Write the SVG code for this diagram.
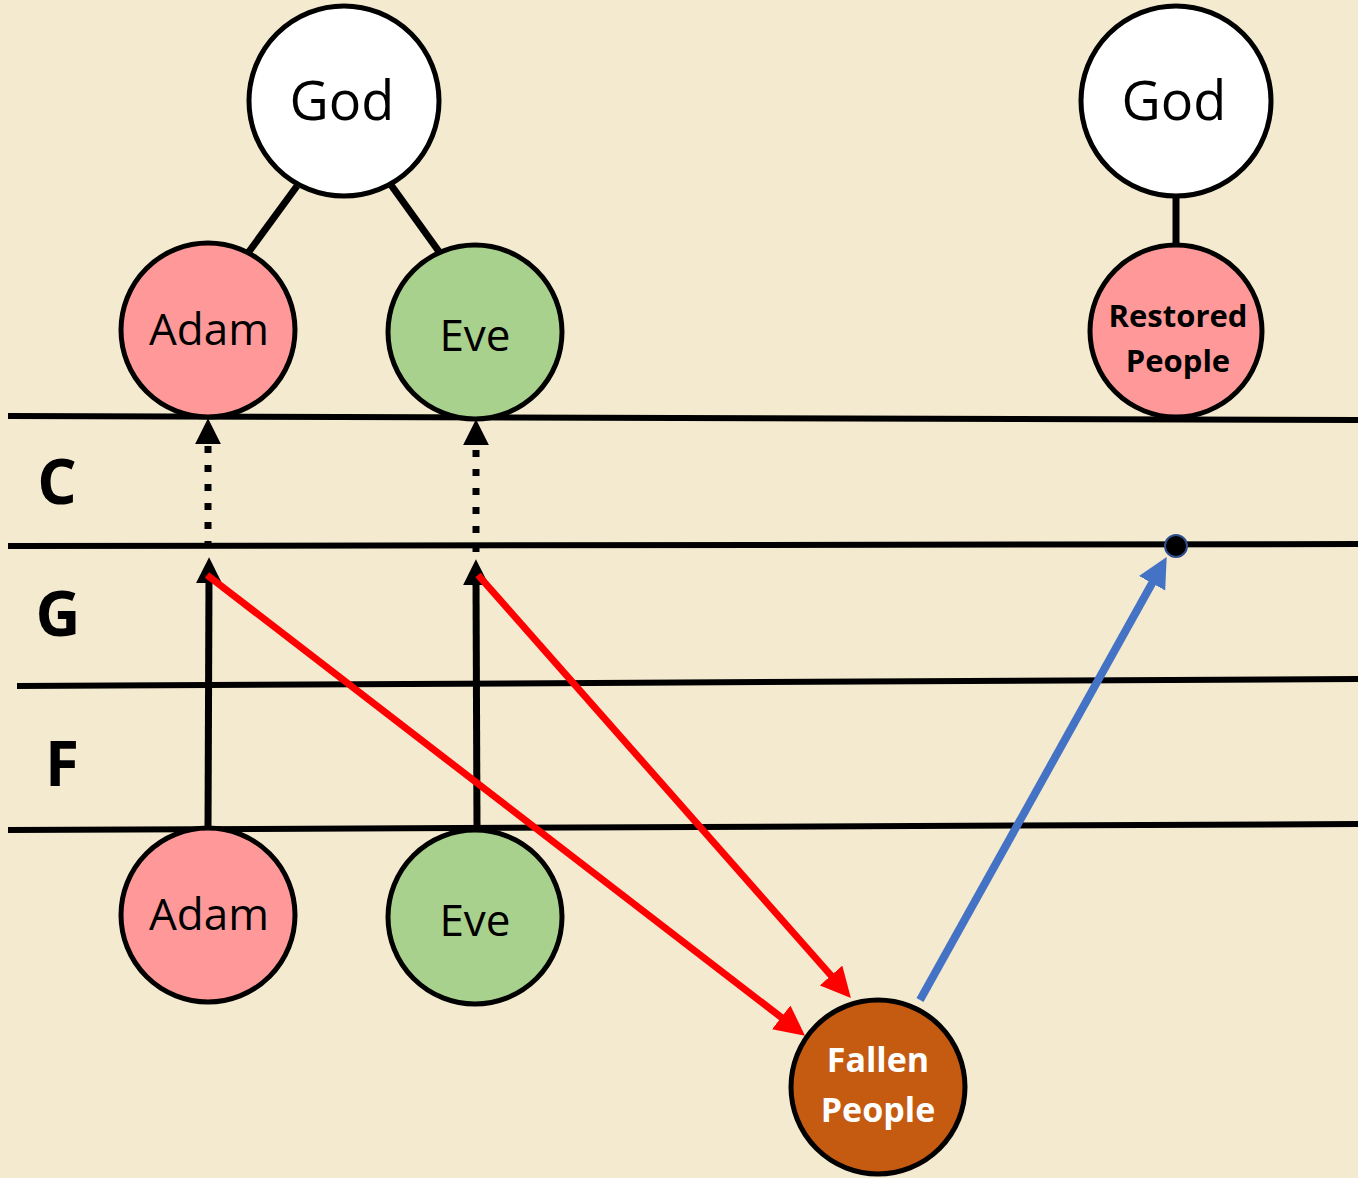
<svg xmlns="http://www.w3.org/2000/svg" width="1358" height="1178" viewBox="0 0 1358 1178">
<style>
.node{stroke:#000;stroke-width:5}
.god{fill:#fff}
.pink{fill:#FF9999}
.green{fill:#A9D18E}
.fallen{fill:#C55A11}
.t{font-family:"Open Sans","Noto Sans",sans-serif;text-anchor:middle;fill:#000}
.big{font-size:54px}
.mid{font-size:44px}
.bold{font-weight:bold;font-size:31px}
.white{fill:#fff;font-size:34px}
.lbl{font-family:"Open Sans","Noto Sans",sans-serif;font-weight:bold;font-size:62px;text-anchor:middle}
.staff{stroke:#000;stroke-width:6;fill:none}
.conn{stroke:#000;stroke-width:7;fill:none}
.dot{stroke:#000;stroke-width:7;stroke-dasharray:7 12;fill:none}
.red{stroke:#FF0000;stroke-width:7;fill:none}
.blue{stroke:#4472C4;stroke-width:8;fill:none}
</style>
<defs>
<marker id="ab" viewBox="0 0 10 10" refX="2" refY="5" markerUnits="userSpaceOnUse" markerWidth="26" markerHeight="28" orient="auto"><path d="M0,0 L10,5 L0,10 z" fill="#000"/></marker>
<marker id="ar" viewBox="0 0 10 10" refX="2" refY="5" markerUnits="userSpaceOnUse" markerWidth="30" markerHeight="30" orient="auto"><path d="M0,0 L10,5 L0,10 z" fill="#FF0000"/></marker>
<marker id="abl" viewBox="0 0 10 10" refX="2" refY="5" markerUnits="userSpaceOnUse" markerWidth="30" markerHeight="32" orient="auto"><path d="M0,0 L10,5 L0,10 z" fill="#4472C4"/></marker>
</defs>
<rect width="1358" height="1178" fill="#F4EAD0"/>
<g id="staff">
<line class="staff" x1="8" y1="416" x2="1358" y2="420"/>
<line class="staff" x1="8" y1="546" x2="1358" y2="544"/>
<line class="staff" x1="17" y1="686" x2="1358" y2="679"/>
<line class="staff" x1="8" y1="830" x2="1358" y2="824"/>
<text class="lbl" x="57" y="504">C</text>
<text class="lbl" x="58" y="636">G</text>
<text class="lbl" x="62" y="786">F</text>
</g>
<g id="connectors">
<line class="conn" x1="297" y1="186" x2="248" y2="253"/>
<line class="conn" x1="391" y1="185" x2="440" y2="253"/>
<line class="conn" x1="1176" y1="196" x2="1176" y2="248"/>
<line class="conn" x1="208" y1="830" x2="209" y2="578" marker-end="url(#ab)"/>
<line class="conn" x1="477" y1="828" x2="476" y2="580" marker-end="url(#ab)"/>
<line class="dot" x1="208" y1="548" x2="208" y2="439" marker-end="url(#ab)"/>
<line class="dot" x1="476" y1="552" x2="476" y2="440" marker-end="url(#ab)"/>
<line class="red" x1="207" y1="575" x2="786" y2="1021" marker-end="url(#ar)"/>
<line class="red" x1="478" y1="575" x2="835" y2="980" marker-end="url(#ar)"/>
<line class="blue" x1="920" y1="1000" x2="1155" y2="578" marker-end="url(#abl)"/>
<circle cx="1176" cy="546" r="11" fill="#000" stroke="#2F4F8F" stroke-width="2"/>
</g>
<g id="god-left"><circle class="node god" cx="344" cy="101" r="95"/><text class="t big" x="342" y="120">God</text></g>
<g id="god-right"><circle class="node god" cx="1176" cy="101" r="95"/><text class="t big" x="1174" y="120">God</text></g>
<g id="adam-top"><circle class="node pink" cx="208" cy="330" r="87"/><text class="t mid" x="209" y="345">Adam</text></g>
<g id="eve-top"><circle class="node green" cx="475" cy="332" r="87"/><text class="t mid" x="475" y="351">Eve</text></g>
<g id="restored"><circle class="node pink" cx="1176" cy="331" r="86"/><text class="t bold" x="1178" y="327">Restored</text><text class="t bold" x="1178" y="372">People</text></g>
<g id="adam-bottom"><circle class="node pink" cx="208" cy="915" r="87"/><text class="t mid" x="209" y="930">Adam</text></g>
<g id="eve-bottom"><circle class="node green" cx="475" cy="917" r="87"/><text class="t mid" x="475" y="936">Eve</text></g>
<g id="fallen"><circle class="node fallen" cx="878" cy="1087" r="87"/><text class="t bold white" x="878" y="1072">Fallen</text><text class="t bold white" x="878" y="1122">People</text></g>
</svg>
